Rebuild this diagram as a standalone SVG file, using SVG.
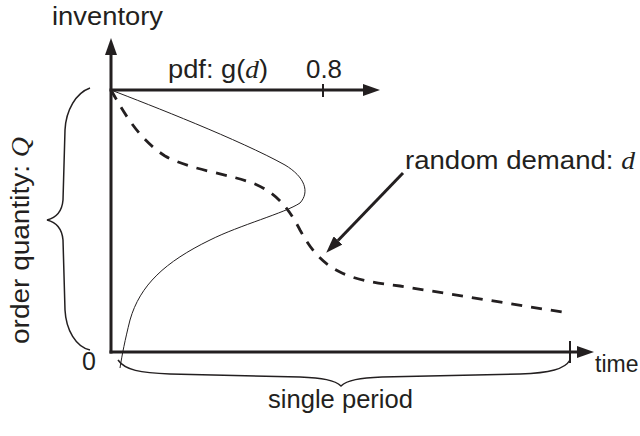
<svg xmlns="http://www.w3.org/2000/svg" width="640" height="436" viewBox="0 0 640 436">
<style>
.lbl{font-family:"Liberation Sans",Arial,sans-serif;font-size:25px;fill:#231f20}
.it{font-family:"Liberation Serif","Times New Roman",serif;font-style:italic}
.axis{stroke:#231f20;stroke-width:3;fill:none}
.tick{stroke:#231f20;stroke-width:2;fill:none}
.brace{stroke:#231f20;stroke-width:1.5;fill:none}
.thin{stroke:#231f20;stroke-width:1;fill:none}
.dash{stroke:#231f20;stroke-width:2.8;fill:none;stroke-dasharray:11 9}
</style>
<defs>
<marker id="ah" viewBox="0 0 17 12" refX="0" refY="6" markerWidth="17" markerHeight="12" markerUnits="userSpaceOnUse" orient="auto">
<path d="M0,0 L17,6 L0,12 z" fill="#231f20"/>
</marker>
</defs>
<rect width="640" height="436" fill="#fff"/>
<g id="inventory-axis">
<path class="axis" d="M111,353.5 L111,55" marker-end="url(#ah)"/>
<text class="lbl" x="52" y="25" textLength="111" lengthAdjust="spacingAndGlyphs">inventory</text>
</g>
<g id="pdf-axis">
<path class="axis" d="M109.5,90 L363,90" marker-end="url(#ah)"/>
<line class="tick" x1="323" y1="84" x2="323" y2="97"/>
<text class="lbl" x="168" y="78" textLength="100" lengthAdjust="spacingAndGlyphs">pdf: g(<tspan class="it">d</tspan>)</text>
<text class="lbl" x="306" y="78" textLength="36" lengthAdjust="spacingAndGlyphs">0.8</text>
</g>
<g id="time-axis">
<path class="axis" d="M109.5,352 L577,352" marker-end="url(#ah)"/>
<line class="tick" x1="570" y1="341" x2="570" y2="363"/>
<text class="lbl" x="82" y="370">0</text>
<text class="lbl" x="595" y="372" style="font-size:23px">time</text>
</g>
<g id="order-quantity">
<path class="brace" d="M90,88 C76,93 66,110 65,130 L63,200 C62,212 55,218 47,220 C55,222 62,228 63,240 L65,310 C66,330 76,347 90,350"/>
<text class="lbl" transform="translate(29,344) rotate(-90)" x="0" y="0" textLength="207" lengthAdjust="spacingAndGlyphs">order quantity: <tspan class="it">Q</tspan></text>
</g>
<g id="single-period">
<path class="brace" d="M118,360 C125,370 140,373 170,374 L300,377 C322,378 335,380 341,386 C347,380 360,378 382,377 L520,374 C550,373 565,369 570,360"/>
<text class="lbl" x="268" y="408" textLength="145" lengthAdjust="spacingAndGlyphs">single period</text>
</g>
<g id="pdf-curve">
<path class="thin" d="M111,90 C150,105 240,140 285,165 C305,177 310,192 300,203 C285,213 240,225 210,240 C165,262 140,285 130,320 C125,340 122,355 120,368"/>
</g>
<g id="random-demand">
<path class="dash" d="M111,90 C125,115 140,140 165,156 C190,170 230,174 255,184 C275,193 287,205 300,230 C310,248 320,262 340,272 C360,282 385,284 400,286 L568,313"/>
<text class="lbl" x="405" y="169" textLength="230" lengthAdjust="spacingAndGlyphs">random demand: <tspan class="it">d</tspan></text>
</g>
<g id="connectors">
<path class="axis" d="M403,173 L338,240.5" marker-end="url(#ah)"/>
</g>
</svg>
